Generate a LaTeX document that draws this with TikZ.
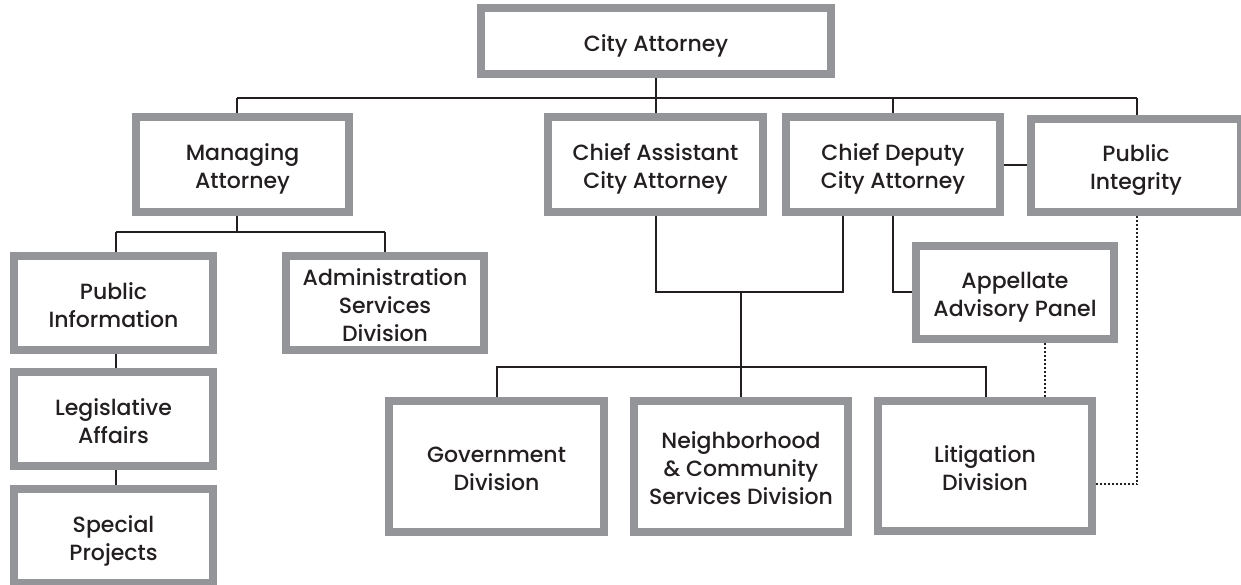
\documentclass[tikz,border=0pt]{standalone}
\usepackage{fontspec}
\setmainfont{Poppins}[UprightFont={* Medium}]
\usetikzlibrary{calc}
\definecolor{boxgray}{HTML}{939598}
\definecolor{ink}{HTML}{231F20}
\newcommand\boxtext[1]{\begin{tabular}{@{}c@{}}\rule{0pt}{28.8pt}#1\end{tabular}}
\tikzset{
  orgbox/.style={draw=boxgray, line width=8pt, fill=white, inner sep=0pt, outer sep=4pt,
    text=ink, font=\fontsize{22}{28}\selectfont},
  link/.style={draw=ink, line width=2pt},
  dotlink/.style={draw=ink, line width=2.6pt, dash pattern=on 2pt off 2pt},
}
\begin{document}
\begin{tikzpicture}[x=1pt, y=-1pt]
\useasboundingbox (0,0) rectangle (1241,584);
% boxes (centre, size of the border centre line = outer - 8)
\node[orgbox, minimum width=350pt, minimum height=66pt] (ca) at (656,41) {\boxtext{City Attorney}};
\node[orgbox, minimum width=213pt, minimum height=95pt] (ma) at (242.5,164.5) {\boxtext{Managing\\Attorney}};
\node[orgbox, minimum width=215pt, minimum height=95pt] (cac) at (655.5,164.5) {\boxtext{Chief Assistant\\City Attorney}};
\node[orgbox, minimum width=214pt, minimum height=95pt] (cdc) at (893,164.5) {\boxtext{Chief Deputy\\City Attorney}};
\node[orgbox, minimum width=210pt, minimum height=93pt] (pi) at (1136,165) {\boxtext{Public\\Integrity}};
\node[orgbox, minimum width=199pt, minimum height=94pt] (pinf) at (113.5,303) {\boxtext{Public\\Information}};
\node[orgbox, minimum width=198pt, minimum height=94pt] (asd) at (385,303) {\boxtext{Administration\\Services\\Division}};
\node[orgbox, minimum width=199pt, minimum height=94pt] (leg) at (113.5,419) {\boxtext{Legislative\\Affairs}};
\node[orgbox, minimum width=199pt, minimum height=94pt] (sp) at (113.5,536) {\boxtext{Special\\Projects}};
\node[orgbox, minimum width=198pt, minimum height=93pt] (aap) at (1015,292.5) {\boxtext{Appellate\\Advisory Panel}};
\node[orgbox, minimum width=215pt, minimum height=131pt] (gov) at (496.5,466.5) {\boxtext{Government\\Division}};
\node[orgbox, minimum width=214pt, minimum height=131pt] (ncs) at (741,466.5) {\boxtext{Neighborhood\\\& Community\\Services Division}};
\node[orgbox, minimum width=214pt, minimum height=130pt] (lit) at (985,466) {\boxtext{Litigation\\Division}};
% bus points
\coordinate (busL) at (237,98);
\coordinate (busR) at (1137,98);
\coordinate (maJ) at (237,232);
\coordinate (maL) at (116,232);
\coordinate (maR) at (385,232);
\coordinate (cJL) at (656,292);
\coordinate (cJR) at (843,292);
\coordinate (cJM) at (741,292);
\coordinate (dvL) at (497,367);
\coordinate (dvR) at (986,367);
\coordinate (apJ) at (893,292);
\coordinate (apB) at (1045,343);
\coordinate (piC) at (1137,484);
% connectors
\draw[link] (ca.south) -- (ca.south |- cac.north);
\draw[link] (busL) -- (busR);
\draw[link] (busL) -- (busL |- ma.north);
\draw[link] (busR) -- (busR |- pi.north);
\draw[link] (cdc.north |- busL) -- (cdc.north);
\draw[link] (cdc.east) -- (cdc.east -| pi.west);
\draw[link] (maJ |- ma.south) -- (maJ);
\draw[link] (maL) -- (maR);
\draw[link] (maL) -- (maL |- pinf.north);
\draw[link] (maR) -- (maR |- asd.north);
\draw[link] (maL |- pinf.south) -- (maL |- leg.north);
\draw[link] (maL |- leg.south) -- (maL |- sp.north);
\draw[link] (cJL |- cac.south) -- (cJL) -- (cJR) -- (cJR |- cdc.south);
\draw[link] (cJM) -- (cJM |- ncs.north);
\draw[link] (dvL |- gov.north) -- (dvL) -- (dvR) -- (dvR |- lit.north);
\draw[link] (apJ |- cdc.south) -- (apJ) -- (apJ -| aap.west);
\draw[dotlink] (apB |- aap.south) -- (apB |- lit.north);
\draw[dotlink] (piC |- pi.south) -- (piC) -- (piC -| lit.east);
\end{tikzpicture}
\end{document}
